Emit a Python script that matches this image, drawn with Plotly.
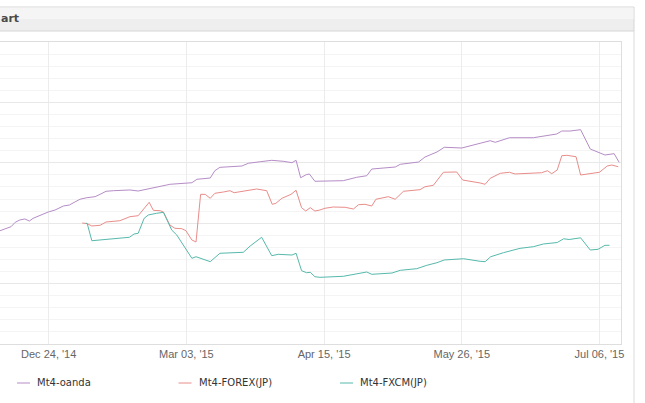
import plotly.graph_objects as go

# ---- data (ordinal x position, value) ----
tick_pos = [30, 60, 90, 120, 150]
tick_labels = ["Dec 24, '14", "Mar 03, '15", "Apr 15, '15", "May 26, '15", "Jul 06, '15"]

series_names = ["Mt4-oanda", "Mt4-FOREX(JP)", "Mt4-FXCM(JP)"]
series_colors = ["#b58dc6", "#e88d8a", "#56b9ac"]

oanda_x = [19.4, 21.8, 22.7, 23.7, 24.8, 25.8, 26.6, 28.5, 29.9, 31.4, 33.2, 34.5, 35.5, 36.8,
           38.3, 40.1, 41.2, 42.5, 44.1, 47.7, 49.5, 51.4, 53.5, 55.7, 56.4, 61.2, 62.3, 65.2,
           66.2, 67.3, 72.1, 73.5, 76.1, 78.6, 81.1, 83.0, 83.9, 84.9, 86.1, 86.8, 88.0, 89.1,
           94.2, 97.1, 99.3, 100.4, 102.9, 105.5, 106.6, 110.6, 112.0, 114.6, 116.2, 120.0,
           124.0, 126.2, 127.3, 130.4, 135.6, 140.7, 141.8, 143.6, 145.9, 148.0, 151.2, 152.0,
           153.2, 154.3]
oanda_y = [187.6, 194.2, 201.5, 205.3, 207.0, 203.6, 208.1, 214.7, 218.5, 221.9, 228.5, 230.1,
           233.9, 239.6, 242.2, 243.9, 247.8, 252.8, 253.8, 255.0, 253.3, 256.1, 258.8, 263.2,
           264.4, 267.0, 272.7, 274.8, 286.9, 292.5, 294.7, 299.2, 301.8, 304.1, 302.5, 300.2,
           304.1, 275.3, 280.3, 281.5, 269.4, 269.4, 270.4, 276.0, 278.6, 289.7, 290.9, 293.0,
           297.5, 301.3, 309.6, 317.9, 325.7, 324.5, 332.3, 336.6, 333.9, 341.5, 341.5, 347.7,
           352.6, 352.6, 354.8, 322.8, 312.9, 314.1, 315.1, 300.8]

forex_x = [37.3, 38.4, 39.4, 41.2, 42.5, 44.4, 45.5, 47.7, 49.5, 51.9, 52.8, 54.3, 55.0, 56.4,
           57.5, 59.0, 59.9, 61.2, 62.1, 63.1, 64.1, 65.2, 66.2, 68.1, 69.5, 70.4, 73.2, 75.3,
           77.5, 78.7, 79.5, 80.8, 82.8, 83.9, 85.1, 86.0, 87.0, 88.0, 89.1, 90.2, 92.0, 94.6,
           96.4, 97.5, 98.9, 100.4, 101.3, 104.0, 105.5, 107.3, 110.9, 112.0, 113.8, 116.0,
           118.9, 120.2, 124.0, 125.1, 126.2, 128.4, 130.4, 131.6, 137.4, 138.7, 139.6, 140.8,
           141.8, 142.9, 144.9, 145.9, 150.0, 151.7, 152.7, 154.1]
forex_y = [200.3, 199.2, 195.4, 196.5, 202.0, 203.6, 204.1, 210.8, 212.4, 234.6, 221.3, 220.7,
           218.5, 197.0, 191.6, 190.9, 187.6, 172.2, 168.9, 247.8, 247.8, 241.2, 249.5, 251.7,
           253.8, 250.5, 253.3, 256.6, 253.8, 231.3, 232.9, 241.2, 247.8, 254.5, 225.7, 220.2,
           225.7, 220.2, 221.9, 224.7, 226.8, 226.3, 223.5, 230.6, 231.3, 228.5, 239.6, 243.9,
           239.6, 252.8, 255.5, 260.4, 262.7, 284.3, 284.8, 271.5, 266.6, 264.4, 274.3, 282.6,
           284.3, 281.5, 283.6, 286.9, 281.9, 288.1, 311.7, 312.4, 310.1, 279.8, 284.3, 294.7,
           296.3, 293.5]

fxcm_x = [38.1, 38.4, 39.4, 47.6, 48.6, 49.5, 50.8, 51.7, 53.5, 55.0, 56.8, 57.9, 61.2, 62.1,
          65.2, 67.3, 72.4, 73.9, 76.4, 78.6, 80.0, 83.0, 83.9, 85.1, 86.2, 87.0, 88.0, 89.1,
          94.2, 96.4, 99.3, 100.4, 104.8, 106.6, 110.2, 112.4, 114.6, 116.2, 120.4, 124.0,
          125.1, 126.3, 129.1, 132.7, 135.6, 137.8, 140.8, 142.2, 143.4, 145.9, 148.0, 149.7,
          151.2, 152.2]
fxcm_y = [200.3, 199.2, 171.0, 176.7, 182.1, 183.3, 208.1, 213.6, 216.4, 218.0, 188.7, 180.5,
          141.9, 144.5, 136.3, 150.2, 151.8, 162.2, 176.7, 146.2, 148.5, 147.3, 150.2, 121.4,
          118.0, 118.7, 111.4, 110.4, 112.1, 115.4, 119.2, 115.4, 117.5, 122.0, 124.7, 130.3,
          134.6, 139.1, 141.2, 136.9, 136.3, 144.5, 151.2, 158.4, 161.1, 165.6, 168.0, 174.2,
          173.0, 175.8, 155.6, 156.8, 163.4, 163.4]

series_x = [oanda_x, forex_x, fxcm_x]
series_y = [oanda_y, forex_y, fxcm_y]

W, H = 645, 403
ML, MR, MT, MB = 0, 24, 42, 59
PW, PH = W - ML - MR, H - MT - MB


def px(x):
    return (x - ML) / PW


def py(y):
    return (H - MB - y) / PH


fig = go.Figure()
for name, col, xs, ys in zip(series_names, series_colors, series_x, series_y):
    fig.add_trace(go.Scatter(x=xs, y=ys, mode="lines", name=name,
                             line=dict(color=col, width=1), showlegend=False,
                             hoverinfo="skip"))

shapes = []
annotations = []
# panel header
shapes.append(dict(type="rect", xref="paper", yref="paper", x0=px(-5), x1=px(634),
                   y0=py(31), y1=py(7), fillcolor="#eeeeee",
                   line=dict(color="#d6d6d6", width=1), layer="below"))
shapes.append(dict(type="rect", xref="paper", yref="paper", x0=px(-5), x1=px(633.5),
                   y0=py(19), y1=py(7.5), fillcolor="#f5f5f5",
                   line=dict(width=0), layer="below"))
# panel right border
shapes.append(dict(type="line", xref="paper", yref="paper", x0=px(634), x1=px(634),
                   y0=py(31), y1=py(H + 2), line=dict(color="#dcdcdc", width=1)))
annotations.append(dict(text="<b>art</b>", xref="paper", yref="paper", x=px(-1), y=py(19),
                        xanchor="left", yanchor="middle", showarrow=False,
                        font=dict(family="DejaVu Sans", size=11, color="#4a4a4a")))

# legend (drawn manually)
for i, (name, col) in enumerate(zip(series_names, series_colors)):
    x0 = 17 + i * 161.5
    shapes.append(dict(type="line", xref="paper", yref="paper", x0=px(x0), x1=px(x0 + 13),
                       y0=py(383), y1=py(383), line=dict(color=col, width=1)))
    annotations.append(dict(text=name, xref="paper", yref="paper", x=px(x0 + 18), y=py(383),
                            xanchor="left", yanchor="middle", showarrow=False,
                            font=dict(family="DejaVu Sans", size=10, color="#333333")))

fig.update_layout(
    width=W, height=H,
    margin=dict(l=ML, r=MR, t=MT, b=MB, pad=0),
    paper_bgcolor="white", plot_bgcolor="white",
    showlegend=False,
    shapes=shapes, annotations=annotations,
    xaxis=dict(range=[19.39, 154.7], tickvals=tick_pos, ticktext=tick_labels,
               showgrid=True, gridcolor="#ececec", gridwidth=1, zeroline=False,
               showline=True, linecolor="#dedede", linewidth=1, mirror=True,
               ticks="", tickfont=dict(family="Liberation Sans", size=11, color="#666666")),
    yaxis=dict(range=[0, 500], dtick=100, showgrid=True, gridcolor="#e8e8e8", gridwidth=1,
               minor=dict(dtick=20, showgrid=True, gridcolor="#f4f4f4", gridwidth=1),
               zeroline=False, showticklabels=False, ticks="",
               showline=True, linecolor="#dedede", linewidth=1, mirror=True),
)

fig.write_html("out.html", config={"displayModeBar": False},
               post_script="document.body.style.margin='0';document.body.style.padding='0';")
